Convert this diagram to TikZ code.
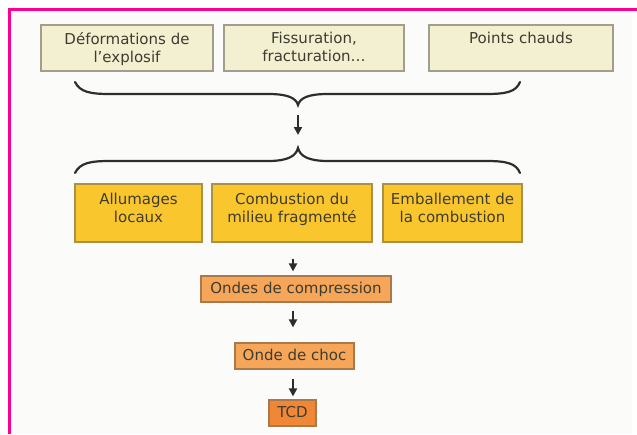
\documentclass[tikz,border=0pt]{standalone}
\usepackage{fontspec}
\setmainfont{DejaVu Sans}
\usetikzlibrary{arrows.meta}
\definecolor{magborder}{RGB}{250,0,150}
\definecolor{innerbg}{RGB}{251,251,250}
\definecolor{creamfill}{RGB}{243,239,209}
\definecolor{creamline}{RGB}{160,158,140}
\definecolor{goldfill}{RGB}{249,198,45}
\definecolor{goldline}{RGB}{170,145,70}
\definecolor{orangefill}{RGB}{246,166,88}
\definecolor{orangeline}{RGB}{170,120,75}
\definecolor{tcdfill}{RGB}{239,135,55}
\definecolor{txtcol}{RGB}{62,60,48}
\definecolor{linecol}{RGB}{45,45,45}
\tikzset{
  basebox/.style={rectangle, draw, line width=1.2pt, inner sep=0pt},
  creambox/.style={basebox, fill=creamfill, draw=creamline, minimum height=46pt},
  goldbox/.style={basebox, fill=goldfill, draw=goldline, minimum height=58pt},
  orangebox/.style={basebox, fill=orangefill, draw=orangeline, minimum height=26pt,
    text=txtcol, font=\fontsize{15pt}{18pt}\selectfont, text height=11pt, text depth=3pt},
  tcdbox/.style={orangebox, fill=tcdfill},
  lbl/.style={inner sep=0pt, align=center, text=txtcol, font=\fontsize{15pt}{18pt}\selectfont, anchor=north},
  bracestyle/.style={draw=linecol, line width=2.2pt, line cap=round},
  arr/.style={draw=linecol, line width=2pt, -{Triangle[length=8pt,width=8pt]}}
}
\begin{document}
\begin{tikzpicture}[x=1pt,y=-1pt]
\useasboundingbox (0,0) rectangle (637,434);
\fill[white] (0,0) rectangle (637,434);
\fill[innerbg] (11,11) rectangle (632,434);
\draw[magborder, line width=3pt] (9.5,434) -- (9.5,9.5) -- (637,9.5);

% top boxes
\node[creambox, minimum width=172pt] (d1) at (127,48) {};
\node[creambox, minimum width=180pt] (d2) at (314,48) {};
\node[creambox, minimum width=184pt] (d3) at (521,48) {};
\node[lbl] (d1t) at ([yshift=-8pt]d1.north) {Déformations de\\l’explosif};
\node[lbl] (d2t) at ([yshift=-8pt]d2.north) {Fissuration,\\fracturation…};
\node[lbl] (d3t) at ([yshift=-8pt]d3.north) {Points chauds};

% brace 1
\coordinate (tipA) at (298,105);
\draw[bracestyle] (75,82) .. controls (80,92) and (90,94) .. (110,94) -- (268,94)
  .. controls (288,94) and (296,98) .. (tipA)
  .. controls (300,98) and (308,94) .. (328,94) -- (486,94)
  .. controls (506,94) and (516,92) .. (520,82);

% brace 2
\coordinate (tipB) at (298,148);
\draw[bracestyle] (75,173) .. controls (80,163) and (90,161) .. (110,161) -- (268,161)
  .. controls (288,161) and (296,156) .. (tipB)
  .. controls (300,156) and (308,161) .. (328,161) -- (486,161)
  .. controls (506,161) and (516,163) .. (520,173);

\draw[arr, shorten <=10pt, shorten >=13pt] (tipA) -- (tipB);

% yellow boxes
\node[goldbox, minimum width=127pt] (g1) at (138.5,213) {};
\node[goldbox, minimum width=160pt] (g2) at (292,213) {};
\node[goldbox, minimum width=139pt] (g3) at (452.5,213) {};
\node[lbl] (g1t) at ([yshift=-9pt]g1.north) {Allumages\\locaux};
\node[lbl] (g2t) at ([yshift=-9pt]g2.north) {Combustion du\\milieu fragmenté};
\node[lbl] (g3t) at ([yshift=-9pt]g3.north) {Emballement de\\la combustion};

% chain
\node[orangebox, minimum width=190pt] (ondes) at (296,289) {Ondes de compression};
\node[orangebox, minimum width=119pt] (choc) at (294.5,356) {Onde de choc};
\node[tcdbox, minimum width=47pt] (tcd) at (292.5,413) {TCD};

\coordinate (ax) at (293,0);
\draw[arr, shorten <=16pt, shorten >=4pt] (g2.south -| ax) -- (ondes.north -| ax);
\draw[arr, shorten <=8pt, shorten >=15pt] (ondes.south -| ax) -- (choc.north -| ax);
\draw[arr, shorten <=9pt, shorten >=3pt] (choc.south -| ax) -- (tcd.north -| ax);
\end{tikzpicture}
\end{document}
